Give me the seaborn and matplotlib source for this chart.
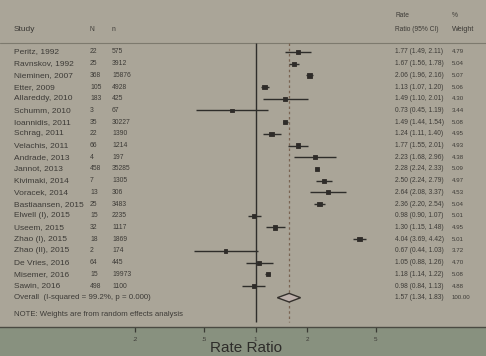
import numpy as np
import pandas as pd
import matplotlib
matplotlib.use("Agg")
import matplotlib.pyplot as plt
import matplotlib.transforms as mtransforms
import seaborn as sns

studies = ["Peritz, 1992", "Ravnskov, 1992", "Nieminen, 2007", "Etter, 2009",
           "Allareddy, 2010", "Schumm, 2010", "Ioannidis, 2011", "Schrag, 2011",
           "Velachis, 2011", "Andrade, 2013", "Jannot, 2013", "Kivimaki, 2014",
           "Voracek, 2014", "Bastiaansen, 2015", "Elwell (I), 2015", "Useem, 2015",
           "Zhao (I), 2015", "Zhao (II), 2015", "De Vries, 2016", "Misemer, 2016",
           "Sawin, 2016"]
N = [22, 25, 368, 105, 183, 3, 35, 22, 66, 4, 458, 7, 13, 25, 15, 32, 18, 2, 64, 15, 498]
n = [575, 3912, 15876, 4928, 425, 67, 30227, 1390, 1214, 197, 35285, 1305, 306,
     3483, 2235, 1117, 1869, 174, 445, 19973, 1100]
rr = [1.77, 1.67, 2.06, 1.13, 1.49, 0.73, 1.49, 1.24, 1.77, 2.23, 2.28, 2.50, 2.64,
      2.36, 0.98, 1.30, 4.04, 0.67, 1.05, 1.18, 0.98]
lo = [1.49, 1.56, 1.96, 1.07, 1.10, 0.45, 1.44, 1.11, 1.55, 1.68, 2.24, 2.24, 2.08,
      2.20, 0.90, 1.15, 3.69, 0.44, 0.88, 1.14, 0.84]
hi = [2.11, 1.78, 2.16, 1.20, 2.01, 1.19, 1.54, 1.40, 2.01, 2.96, 2.33, 2.79, 3.37,
      2.54, 1.07, 1.48, 4.42, 1.03, 1.26, 1.22, 1.13]
weight = [4.79, 5.04, 5.07, 5.06, 4.30, 3.44, 5.08, 4.95, 4.93, 4.38, 5.09, 4.97,
          4.53, 5.04, 5.01, 4.95, 5.01, 3.72, 4.70, 5.08, 4.88]
overall_label = "Overall  (I-squared = 99.2%, p = 0.000)"
overall_rr, overall_lo, overall_hi, overall_w = 1.57, 1.34, 1.83, 100.00
note = "NOTE: Weights are from random effects analysis"
xticks = [0.2, 0.5, 1, 2, 5]
xticklabels = [".2", ".5", "1", "2", "5"]

df = pd.DataFrame({"study": studies, "N": N, "n": n, "rr": rr, "lo": lo, "hi": hi,
                   "w": weight})
df["row"] = np.arange(len(df))
overall_row = len(df)

sns.set_theme(style="white")
plt.rcParams["font.family"] = ["Liberation Sans", "DejaVu Sans"]

W, H = 486, 356
fig = plt.figure(figsize=(W / 100, H / 100), dpi=100)
fig.patch.set_facecolor("#88917f")
ax_bottom_px = 327
ax = fig.add_axes([0, (H - ax_bottom_px) / H, 1, ax_bottom_px / H])
ax.set_facecolor("#aaa598")

# log-x axis: 1 at px 255.5, 74.6 px per ln-unit
ppu = 74.6
x0 = 255.5
ax.set_xscale("log")
ax.set_xlim(np.exp(-x0 / ppu), np.exp((W - x0) / ppu))
row_px0, row_step = 52.0, 11.7
ax.set_ylim((ax_bottom_px - row_px0) / row_step, -row_px0 / row_step)

def prow(py):
    return (py - row_px0) / row_step

ink = "#3d3b37"
# header separator
ax.axhline(prow(43), color="#7d7a6e", lw=0.8)
# reference lines
ax.vlines(1, prow(43), prow(322), color="#2f2e2b", lw=1.0)
ax.vlines(overall_rr, prow(43), prow(322), color="#7a6452", lw=0.9,
          linestyles=(0, (2.0, 2.2)))

# CIs and points
ax.hlines(df["row"], df["lo"], df["hi"], color="#2e2d2a", lw=1.0)
sns.scatterplot(data=df, x="rr", y="row", size="w", sizes=(6, 10), marker="s",
                color="#2f2b28", edgecolor="#2f2b28", linewidth=0.6, legend=False, ax=ax)

# overall diamond
hh = 0.37
ax.fill([overall_lo, overall_rr, overall_hi, overall_rr],
        [overall_row, overall_row - hh, overall_row, overall_row + hh],
        facecolor="#bdb0ab", edgecolor="#34302c", lw=1.0, zorder=4)

# text columns
tr = mtransforms.blended_transform_factory(ax.transAxes, ax.transData)
def t(px, row, s, size, **kw):
    ax.text(px / W, row, s, transform=tr, fontsize=size, color=ink, va="center",
            ha="left", **kw)

fs_study, fs_num, fs_right = 6.0, 4.9, 4.8
t(14, prow(29.5), "Study", fs_study)
t(90, prow(29.5), "N", fs_num)
t(112, prow(29.5), "n", fs_num)
t(395, prow(15.5), "Rate", fs_right)
t(395, prow(29.5), "Ratio (95% CI)", fs_right)
t(452, prow(15.5), "%", fs_right)
t(452, prow(29.5), "Weight", 5.2)
for i in range(len(df)):
    t(14, i, studies[i], fs_study)
    t(90, i, str(N[i]), fs_num)
    t(112, i, str(n[i]), fs_num)
    t(395, i, f"{rr[i]:.2f} ({lo[i]:.2f}, {hi[i]:.2f})", fs_right)
    t(452, i, f"{weight[i]:.2f}", 4.4)
t(14, overall_row, overall_label, 5.7)
t(395, overall_row, f"{overall_rr:.2f} ({overall_lo:.2f}, {overall_hi:.2f})", fs_right)
t(452, overall_row, f"{overall_w:.2f}", 4.4)
t(14, prow(315), note, 5.6)

# axes styling
ax.set_yticks([])
ax.set_xticks(xticks)
ax.set_xticklabels(xticklabels)
ax.minorticks_off()
ax.tick_params(axis="x", direction="out", length=3.5, width=0.9, color="#3a3a34",
               labelsize=4.5, labelcolor=ink, pad=3.5, bottom=True)
for side in ["top", "left", "right"]:
    ax.spines[side].set_visible(False)
ax.spines["bottom"].set_color("#4a4a42")
ax.spines["bottom"].set_linewidth(1.0)
ax.set_ylabel("")
ax.set_xlabel("Rate Ratio", fontsize=11, color="#2e2d2a")
ax.xaxis.set_label_coords(246 / W, (ax_bottom_px - 347.5) / ax_bottom_px)
ax.xaxis.label.set_va("center")

fig.savefig("out.png", dpi=100, facecolor=fig.get_facecolor())
